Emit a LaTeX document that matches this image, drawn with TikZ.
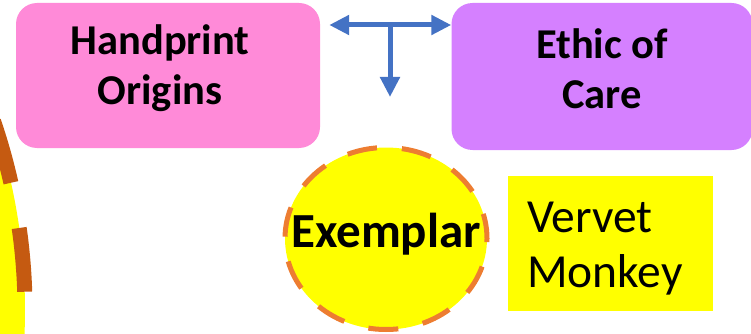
\documentclass[tikz,border=0pt]{standalone}
\usepackage{fontspec}
\setmainfont{Carlito}
\usetikzlibrary{arrows.meta,shapes.geometric}
\definecolor{pinkbox}{HTML}{FF8AD8}
\definecolor{purplebox}{HTML}{D580FF}
\definecolor{arrowblue}{HTML}{4472C4}
\definecolor{dashorange}{HTML}{ED7D31}
\definecolor{dashbrown}{HTML}{C55A11}
\definecolor{brightyellow}{HTML}{FFFF00}
\tikzset{
  roundbox/.style={rectangle, rounded corners=21pt, inner sep=0pt},
  headtxt/.style={font=\fontsize{42.5}{50.5}\selectfont\bfseries, align=center, anchor=base, inner sep=0pt},
  bluearrow/.style={draw=arrowblue, line width=5pt, -{Triangle[length=20pt,width=19pt]}},
}
\begin{document}
\begin{tikzpicture}[x=1pt,y=-1pt]
\useasboundingbox (0,0) rectangle (751,334);
\clip (0,0) rectangle (751,334);
% large partial circle on the left
\fill[brightyellow] (-557,310) circle[radius=582];
\draw[dashbrown, line width=15pt, dash pattern=on 64pt off 46pt]
  (-557,310) ++(-18.93:582) arc[start angle=-18.93, end angle=12, radius=582];
% boxes
\node[roundbox, fill=pinkbox, minimum width=304pt, minimum height=145pt] (pink) at (168,75.5) {};
\node[roundbox, fill=purplebox, minimum width=301pt, minimum height=147pt] (purple) at (602,76.5) {};
\node[headtxt] (pinktxt) at (160,104.5) {Handprint\\Origins};
\node[headtxt] (purpletxt) at (602,108.5) {Ethic of\\Care};
% arrows
\coordinate (j) at (390,25);
\coordinate (down) at (390,97);
\draw[bluearrow, {Triangle[length=20pt,width=19pt]}-{Triangle[length=20pt,width=19pt]}, shorten <=9pt]
  (pink.east |- j) -- (purple.west |- j);
\draw[bluearrow] (j) -- (down);
% exemplar
\node[ellipse, fill=brightyellow, draw=dashorange, line width=5pt,
  dash pattern=on 30pt off 25pt, dash phase=5pt,
  minimum width=202pt, minimum height=182pt, inner sep=0pt,
  font=\fontsize{49}{55}\selectfont\bfseries, text height=34pt, text depth=17pt]
  (exemplar) at (386,238.5) {\makebox[0pt][c]{Exemplar}};
% vervet monkey
\node[rectangle, fill=brightyellow, minimum width=205pt, minimum height=135pt, inner sep=0pt] (vervetbox) at (610.5,243.5) {};
\node[font=\fontsize{47.5}{55}\selectfont, align=left, anchor=base west, inner sep=0pt] (vervet) at (527,287) {Vervet\\Monkey};
\end{tikzpicture}
\end{document}
